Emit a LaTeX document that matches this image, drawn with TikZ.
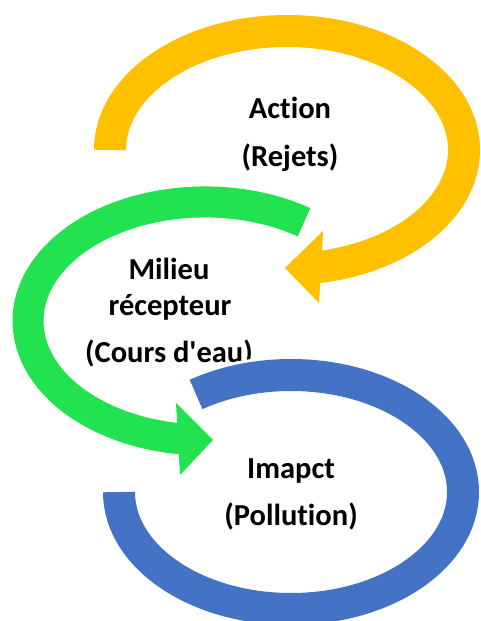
\documentclass[tikz,border=0pt]{standalone}
\usepackage{fontspec}
\setmainfont[Ligatures={NoCommon}]{Carlito}
\definecolor{ringorange}{HTML}{FFC000}
\definecolor{ringgreen}{HTML}{23E24F}
\definecolor{ringblue}{HTML}{4472C4}
\tikzset{
  ring/.style={line width=#1, line cap=butt},
  lbl/.style={anchor=base, inner sep=0pt, font=\fontsize{30.5}{36}\selectfont\bfseries, text=black},
}
\begin{document}
\begin{tikzpicture}[x=1pt,y=1pt]
\useasboundingbox (0,0) rectangle (480,621);
% orange ring (Action)
\draw[ring=32pt, ringorange] (110,471) arc[start angle=180, end angle=-80, x radius=177pt, y radius=119pt];
\fill[ringorange] (285,353) -- (323,390) -- (319,318) -- cycle;
% green ring (Milieu)
\draw[ring=31pt, ringgreen] (304.0,398.7) arc[start angle=56, end angle=262, x radius=177pt, y radius=119pt];
\fill[ringgreen] (213,181) -- (176,218) -- (180,146) -- cycle;
% texts
\node[lbl] (t1) at (290,502) {Action};
\node[lbl] (t2) at (290,454) {(Rejets)};
\node[lbl] (t3) at (169,341) {Milieu};
\node[lbl] (t4) at (170,305) {récepteur};
\node[lbl] (t5) at (169,258) {(Cours d\textquotesingle eau)};
\node[lbl] (t6) at (291,142) {Imapct};
\node[lbl] (t7) at (291,95) {(Pollution)};
% blue ring (Impact), with a thin white outline
\draw[ring=38pt, white] (119,129) arc[start angle=-180, end angle=123.5, x radius=172pt, y radius=117pt];
\draw[ring=32pt, ringblue] (119,129) arc[start angle=-180, end angle=123.5, x radius=172pt, y radius=117pt];
\end{tikzpicture}
\end{document}
